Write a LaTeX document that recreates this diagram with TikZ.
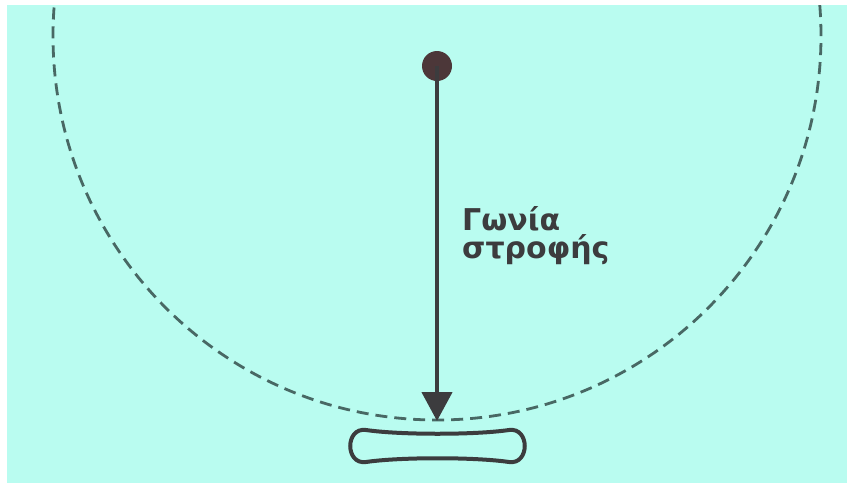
\documentclass[tikz,border=0pt]{standalone}
\usepackage{fontspec}
\setmainfont{DejaVu Sans}
\usetikzlibrary{arrows.meta}

\definecolor{sea}{RGB}{185,252,240}
\definecolor{ink}{RGB}{60,60,62}
\definecolor{rim}{RGB}{72,104,100}

\begin{document}
\begin{tikzpicture}[x=1pt, y=-1pt,
  pivot/.style={circle, fill=ink!92!red, minimum size=30pt, inner sep=0pt},
  orbit/.style={rim, line width=2.8pt, dash pattern=on 12pt off 7pt},
  arr/.style={-{Triangle[length=29pt, width=30pt]}, ink, line width=4.5pt},
  lbl/.style={font=\bfseries\fontsize{30}{28}\selectfont, text=ink, align=left,
              anchor=north west, inner sep=0pt}
]
  \useasboundingbox (0,0) rectangle (847,483);
  \fill[sea] (7,5) rectangle (847,483);
  \begin{scope}
    \clip (7,5) rectangle (847,483);
    \draw[orbit] (437,36) circle[radius=384pt];
  \end{scope}
  \node[pivot] (pivot) at (437,66) {};
  \coordinate (tip) at (437,421);
  \draw[arr] (pivot.center) -- (tip);
  \node[lbl] (angle) at (462,206) {Γωνία\\στροφής};
  % the bar
  \draw[ink, line width=4pt, fill=sea]
    (366,430) .. controls (400,435) and (475,435) .. (509,430)
    .. controls (530,427) and (530,465) .. (509,462)
    .. controls (475,457) and (400,457) .. (366,462)
    .. controls (345,465) and (345,427) .. (366,430) -- cycle;
\end{tikzpicture}
\end{document}
